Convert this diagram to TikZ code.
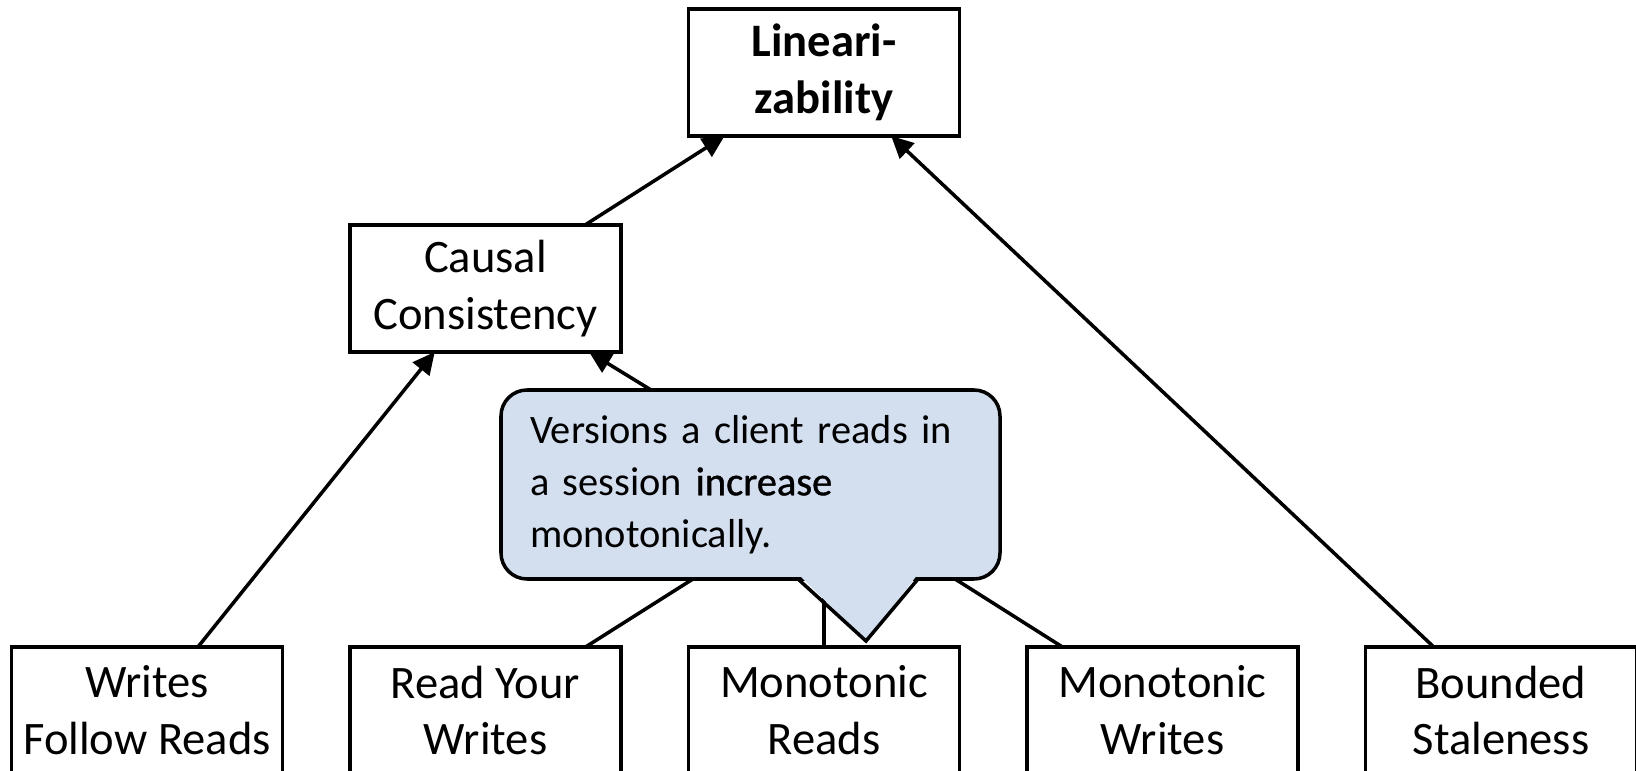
\documentclass[tikz,border=0pt]{standalone}
\usepackage{fontspec}
\setmainfont{Carlito}
\usepackage{xcolor}
\usepackage{tikz}
\usetikzlibrary{arrows.meta,positioning,calc}
\definecolor{notefill}{HTML}{D3DEEF}

\begin{document}
\begin{tikzpicture}[node distance=1.35cm,>={Triangle[length=0.44cm,width=0.42cm]},line width=2pt,
  level/.style={draw,minimum width=5.42cm,minimum height=2.54cm,inner sep=0pt,outer sep=0pt,align=center,
    font=\fontsize{26.5}{32.4}\selectfont},
  note/.style={draw,fill=notefill,rounded corners=0.52cm,minimum width=9.98cm,minimum height=3.78cm,
    text width=8.82cm,inner sep=0pt,outer sep=0pt,align=left,font=\fontsize{23}{29.6}\selectfont}]
\useasboundingbox (0,0) rectangle (32.72,-15.42);
\node[level] (wfr) at (2.94,-14.21) {Writes\\Follow Reads};
\node[level,right=of wfr] (ryw) {Read Your\\Writes};
\node[level,right=of ryw] (mr) {Monotonic\\Reads};
\node[level,right=of mr] (mw) {Monotonic\\Writes};
\node[level,right=of mw] (bs) {Bounded\\Staleness};
\node[level,above=5.9cm of ryw] (causal) {Causal\\Consistency};
\node[level,above=10.22cm of mr] (lin) {\textbf{Lineari-}\\\textbf{zability}};
\coordinate[above=4.29cm of mr.center] (join);
\draw[->] (causal) -- (lin);
\draw[->] (bs) -- (lin);
\draw[->] (wfr) -- (causal);
\draw (ryw) -- (join);
\draw (mr) -- (join);
\draw (mw) -- (join);
\draw[->] (join) -- (causal);
% callout over the merged lines
\node[note] (tip) at (15.01,-9.69) {Versions a client reads in\\a session {\addfontfeatures{FakeBold=1}increase}\\monotonically.};
\fill[notefill] ([xshift=0.95cm,yshift=0.1cm]tip.south) -- ([xshift=2.31cm,yshift=-1.24cm]tip.south)
  -- ([xshift=3.35cm,yshift=0.1cm]tip.south) -- cycle;
\draw[line join=miter] ([xshift=0.95cm]tip.south) -- ([xshift=2.31cm,yshift=-1.24cm]tip.south)
  -- ([xshift=3.35cm]tip.south);
\end{tikzpicture}
\end{document}
